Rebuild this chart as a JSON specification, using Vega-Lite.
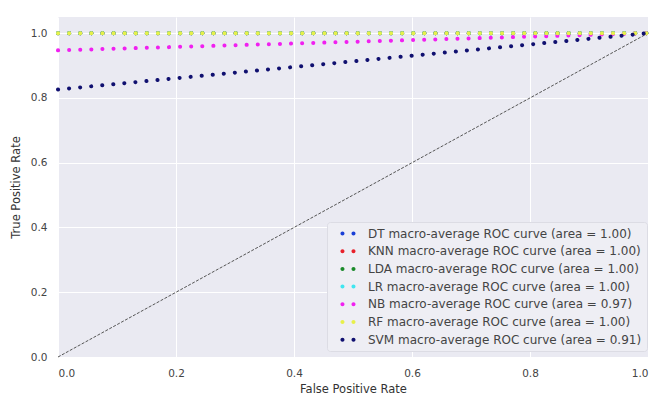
{
  "$schema": "https://vega.github.io/schema/vega-lite/v6.json",
  "autosize": {"type": "none"},
  "width": 590,
  "height": 340,
  "padding": {"left": 58, "top": 17, "right": 7, "bottom": 43},
  "background": "white",
  "config": {
    "view": {"fill": "#EAEAF2", "stroke": null},
    "font": "DejaVu Sans",
    "axis": {
      "grid": true, "gridColor": "white", "gridWidth": 1,
      "domain": false, "ticks": false,
      "labelColor": "#444", "labelFontSize": 10.5, "labelPadding": 11,
      "titleColor": "#333", "titleFontSize": 11.5, "titleFontWeight": "normal"
    }
  },
  "datasets": {
    "roc": [
      {"model": "DT macro-average ROC curve (area = 1.00)", "fpr": 0, "tpr": 1.0},
      {"model": "DT macro-average ROC curve (area = 1.00)", "fpr": 1, "tpr": 1.0},
      {"model": "KNN macro-average ROC curve (area = 1.00)", "fpr": 0, "tpr": 1.0},
      {"model": "KNN macro-average ROC curve (area = 1.00)", "fpr": 1, "tpr": 1.0},
      {"model": "LDA macro-average ROC curve (area = 1.00)", "fpr": 0, "tpr": 1.0},
      {"model": "LDA macro-average ROC curve (area = 1.00)", "fpr": 1, "tpr": 1.0},
      {"model": "LR macro-average ROC curve (area = 1.00)", "fpr": 0, "tpr": 1.0},
      {"model": "LR macro-average ROC curve (area = 1.00)", "fpr": 1, "tpr": 1.0},
      {"model": "NB macro-average ROC curve (area = 0.97)", "fpr": 0, "tpr": 0.947},
      {"model": "NB macro-average ROC curve (area = 0.97)", "fpr": 1, "tpr": 1.0},
      {"model": "RF macro-average ROC curve (area = 1.00)", "fpr": 0, "tpr": 1.0},
      {"model": "RF macro-average ROC curve (area = 1.00)", "fpr": 1, "tpr": 1.0},
      {"model": "SVM macro-average ROC curve (area = 0.91)", "fpr": 0, "tpr": 0.826},
      {"model": "SVM macro-average ROC curve (area = 0.91)", "fpr": 1, "tpr": 1.0}
    ],
    "diag": [
      {"fpr": 0, "tpr": 0},
      {"fpr": 1, "tpr": 1}
    ]
  },
  "layer": [
    {
      "data": {"name": "diag"},
      "mark": {"type": "line", "color": "#555", "strokeWidth": 1, "strokeDash": [3, 1.5]},
      "encoding": {
        "x": {"field": "fpr", "type": "quantitative"},
        "y": {"field": "tpr", "type": "quantitative"}
      }
    },
    {
      "data": {"name": "roc"},
      "mark": {"type": "line", "strokeWidth": 4, "strokeCap": "round", "strokeDash": [0.1, 11], "clip": false},
      "encoding": {
        "x": {
          "field": "fpr", "type": "quantitative",
          "scale": {"domain": [0, 1], "nice": false, "zero": false},
          "axis": {"values": [0, 0.2, 0.4, 0.6, 0.8, 1.0], "format": ".1f", "title": "False Positive Rate", "titlePadding": 5}
        },
        "y": {
          "field": "tpr", "type": "quantitative",
          "scale": {"domain": [0, 1.05], "nice": false, "zero": false},
          "axis": {"values": [0, 0.2, 0.4, 0.6, 0.8, 1.0], "format": ".1f", "title": "True Positive Rate", "titlePadding": 9}
        },
        "color": {
          "field": "model", "type": "nominal",
          "scale": {"range": ["#1a3fd6", "#e8202a", "#1a8a2a", "#40e6f0", "#f020f0", "#e8f04a", "#101070"]},
          "legend": {
            "title": null,
            "orient": "none",
            "legendX": 269,
            "legendY": 205,
            "symbolType": "M0.32,0a0.33,0.33 0 1,0 0.66,0a0.33,0.33 0 1,0 -0.66,0M2.12,0a0.33,0.33 0 1,0 0.66,0a0.33,0.33 0 1,0 -0.66,0",
            "symbolStrokeWidth": 0,
            "symbolSize": 150,
            "labelFontSize": 12,
            "labelColor": "#444",
            "labelOffset": 23,
            "rowPadding": 4.7,
            "padding": 5,
            "fillColor": "#EEEEF4",
            "strokeColor": "#dcdce4",
            "cornerRadius": 3,
            "labelLimit": 400,
            "encode": {
              "symbols": {
                "update": {
                  "fill": {"scale": "color", "field": "value"},
                  "fillOpacity": {"value": 1},
                  "strokeWidth": {"value": 0}
                }
              }
            }
          }
        }
      }
    }
  ]
}
